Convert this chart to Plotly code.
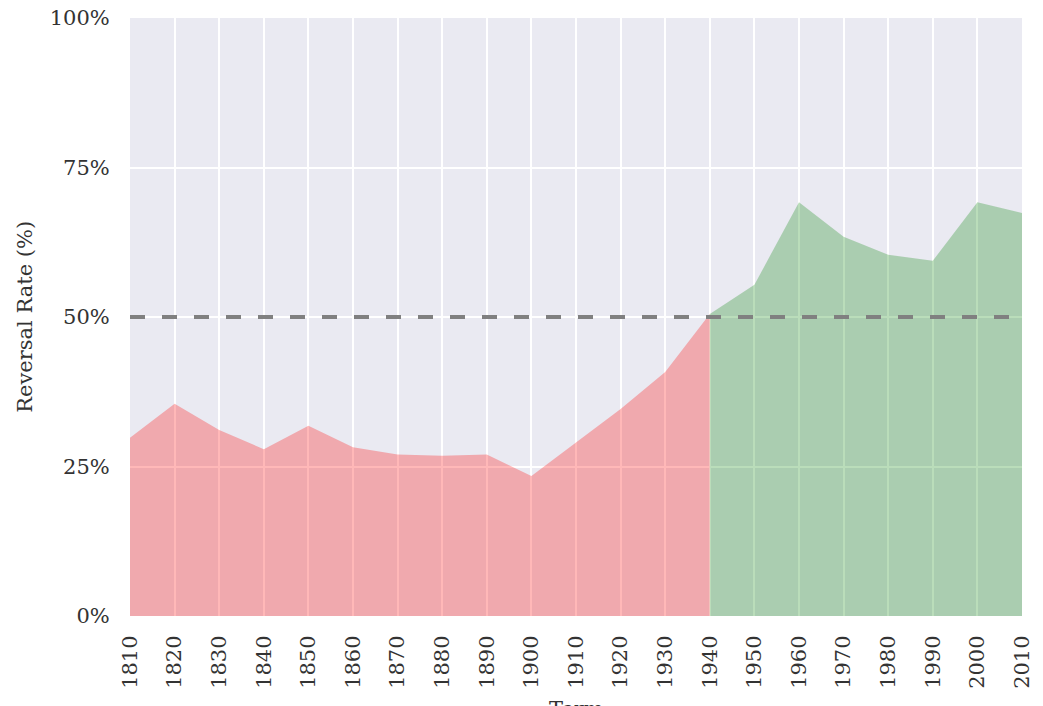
import plotly.graph_objects as go

terms = [1810, 1820, 1830, 1840, 1850, 1860, 1870, 1880, 1890, 1900, 1910,
         1920, 1930, 1940, 1950, 1960, 1970, 1980, 1990, 2000, 2010]
reversal_rate = [29.8, 35.5, 31.1, 27.9, 31.8, 28.2, 27.0, 26.8, 27.0, 23.4, 29.0,
                 34.6, 40.8, 50.5, 55.4, 69.2, 63.4, 60.4, 59.4, 69.2, 67.4]
split_year = 1940
threshold = 50
y_ticks = [0, 25, 50, 75, 100]
y_tick_labels = ["0%", "25%", "50%", "75%", "100%"]

i = terms.index(split_year)
FONT = "DejaVu Serif"
FS = 21
TXT = "#333333"

fig = go.Figure()
fig.add_trace(go.Scatter(x=terms[:i + 1], y=reversal_rate[:i + 1], mode="lines",
                         line=dict(width=0, color="rgba(255,0,0,0)"),
                         fill="tozeroy", fillcolor="rgba(255,0,0,0.28)",
                         hoverinfo="skip", showlegend=False))
fig.add_trace(go.Scatter(x=terms[i:], y=reversal_rate[i:], mode="lines",
                         line=dict(width=0, color="rgba(0,128,0,0)"),
                         fill="tozeroy", fillcolor="rgba(0,128,0,0.27)",
                         hoverinfo="skip", showlegend=False))

fig.add_hline(y=threshold, line=dict(color="#808080", width=4, dash="15px,17px"), layer="above")

# the page body adds an 8px offset, so margins are shifted accordingly
fig.update_layout(
    width=1043, height=706,
    margin=dict(l=122, r=29, t=10, b=98),
    paper_bgcolor="white", plot_bgcolor="#EAEAF2",
    font=dict(family=FONT, size=FS, color=TXT),
    showlegend=False,
    xaxis=dict(range=[terms[0], terms[-1]], tickmode="array", tickvals=terms,
               ticktext=[str(t) for t in terms], tickangle=-90, automargin=False,
               ticklabeloverflow="allow",
               showgrid=True, gridcolor="white", gridwidth=1.8, zeroline=False,
               ticks="outside", ticklen=10, tickcolor="rgba(0,0,0,0)",
               showline=False, tickfont=dict(family=FONT, size=FS, color=TXT)),
    yaxis=dict(range=[0, 100], tickmode="array", tickvals=y_ticks, ticktext=y_tick_labels,
               automargin=False, ticklabeloverflow="allow",
               showgrid=True, gridcolor="white", gridwidth=1.8, zeroline=False,
               ticks="outside", ticklen=15, tickcolor="rgba(0,0,0,0)",
               showline=False, tickfont=dict(family=FONT, size=FS, color=TXT)),
)

fig.add_annotation(text="Reversal Rate (%)", xref="paper", yref="paper", x=-0.118, y=0.5,
                   xanchor="center", yanchor="middle", textangle=-90, showarrow=False,
                   font=dict(family=FONT, size=FS, color=TXT))
fig.add_annotation(text="Term", xref="paper", yref="paper", x=0.5, y=-0.132,
                   xanchor="center", yanchor="top", showarrow=False,
                   font=dict(family=FONT, size=FS, color=TXT))

fig.write_html("out.html")
